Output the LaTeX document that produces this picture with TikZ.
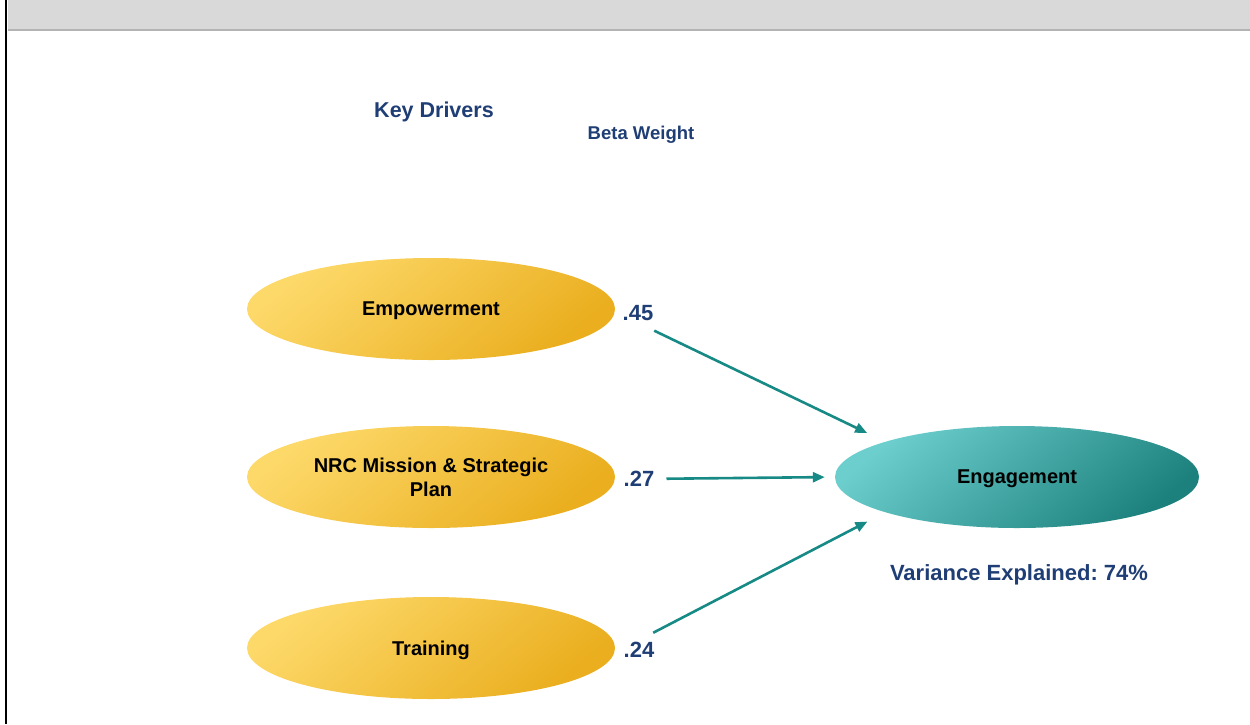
\documentclass[tikz,border=0pt]{standalone}
\usepackage{fontspec}
\setmainfont{Liberation Sans}
\frenchspacing
\usetikzlibrary{arrows.meta, shapes.geometric}
\definecolor{bar grey}{HTML}{D9D9D9}
\definecolor{bar edge}{HTML}{B3B3B3}
\definecolor{title blue}{HTML}{1F3E75}
\definecolor{arrow teal}{HTML}{178A86}
\definecolor{driver light}{HTML}{FDD96A}
\definecolor{driver dark}{HTML}{EAAE1E}
\definecolor{outcome light}{HTML}{6CCFCE}
\definecolor{outcome dark}{HTML}{1C807C}
\tikzset{
  driver/.style={ellipse, minimum width=368pt, minimum height=102pt, inner sep=0pt,
    top color=driver light, bottom color=driver dark, shading angle=40,
    align=center, text depth=0pt, font=\fontsize{20}{24}\selectfont\bfseries},
  outcome/.style={ellipse, minimum width=364pt, minimum height=102pt, inner sep=0pt,
    top color=outcome light, bottom color=outcome dark, shading angle=40,
    text depth=0pt, font=\fontsize{20}{24}\selectfont\bfseries},
  weight/.style={inner sep=2pt, text=title blue, font=\fontsize{22}{26}\selectfont\bfseries},
  heading/.style={inner sep=0pt, text depth=0pt, text=title blue, font=\fontsize{#1}{#1}\selectfont\bfseries},
  wedge/.style={draw=arrow teal, line width=2.6pt, -{Triangle[length=12pt, width=10pt]}}
}
\begin{document}
\begin{tikzpicture}[x=1pt, y=-1pt]
    \useasboundingbox (0,0) rectangle (1250,724);
    % frame
    \fill[bar grey] (8,0) rectangle (1250,29);
    \fill[bar edge] (8,29) rectangle (1250,31);
    \fill[black] (5,0) rectangle (7,724);
    % titles
    \node[heading=21.5] (keydrv) at (434,110) {Key Drivers};
    \node[heading=18.5] (beta) at (641,133) {Beta Weight};
    % drivers
    \node[driver] (empow) at (431,309) {Empowerment};
    \node[driver] (mission) at (431,477) {NRC Mission \& Strategic\\Plan};
    \node[driver] (train) at (431,648) {Training};
    % outcome
    \node[outcome] (engage) at (1017,477) {Engagement};
    \node[heading=22] (varexp) at (1019,573) {Variance Explained: 74\%};
    % weights
    \node[weight] (w45) at (638,313) {.45};
    \node[weight] (w27) at (639,479) {.27};
    \node[weight] (w24) at (639,650) {.24};
    \draw[wedge, shorten <=18pt, shorten >=20pt] (w45.south) -- (engage.165);
    \draw[wedge, shorten <=10pt, shorten >=10pt] (w27) -- (engage.west);
    \draw[wedge, shorten <=16pt, shorten >=20pt] (w24.north) -- (engage.195);
\end{tikzpicture}
\end{document}
